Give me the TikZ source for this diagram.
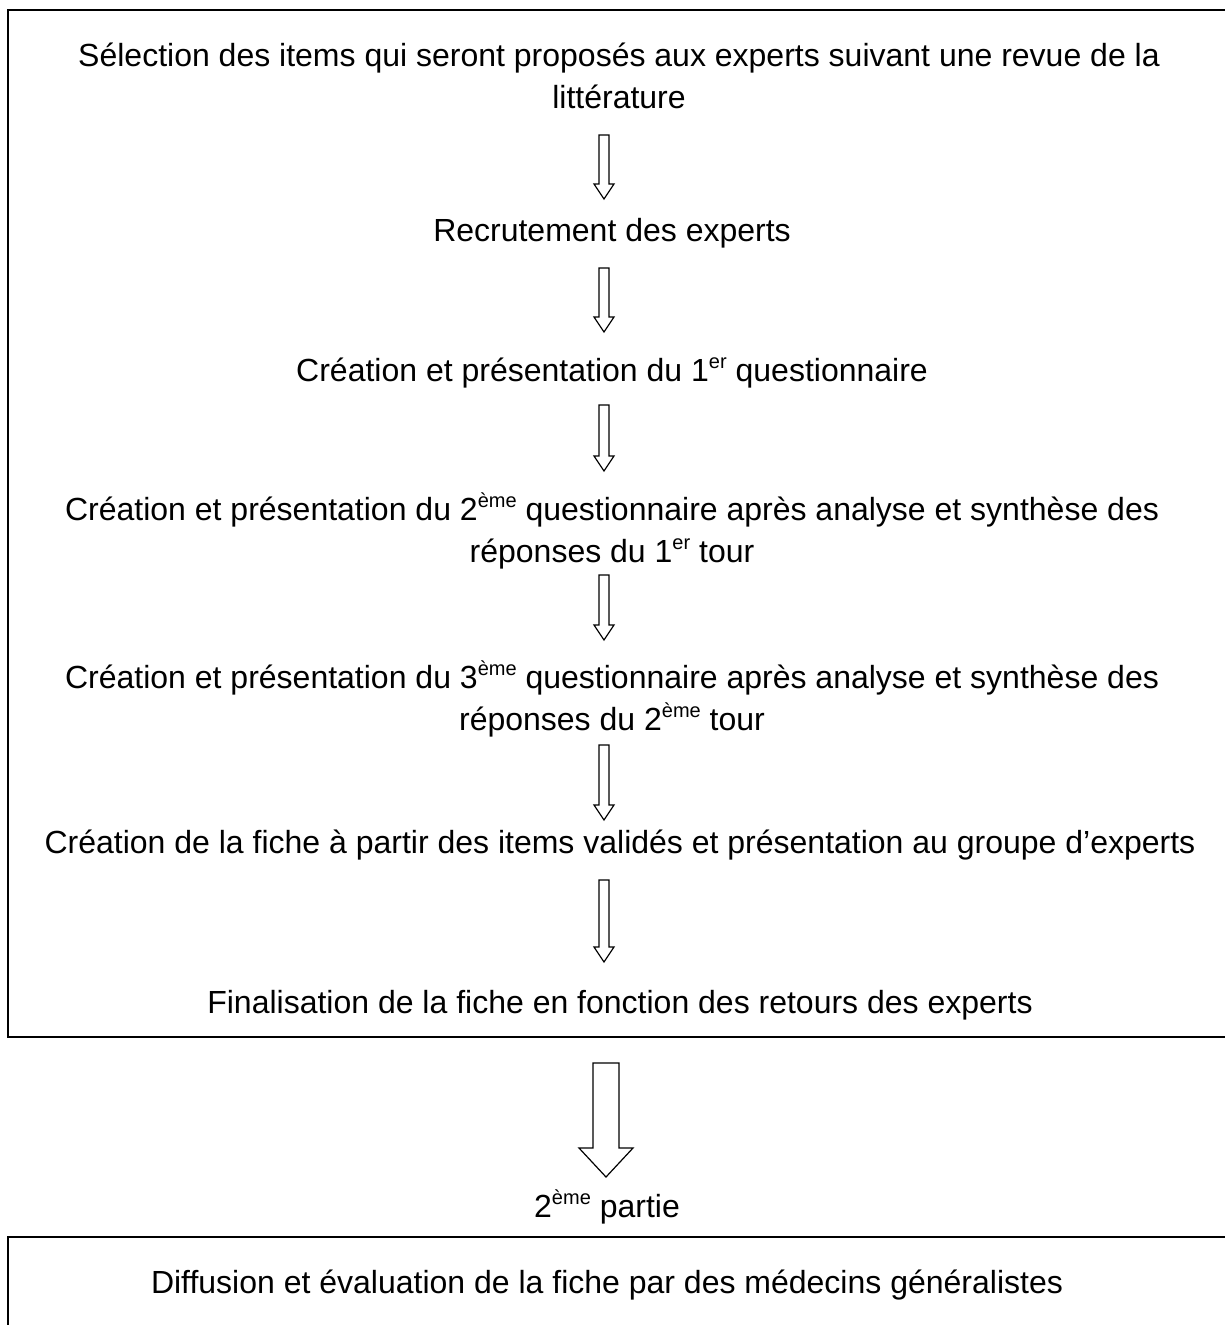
\documentclass[tikz,border=0pt]{standalone}
\usepackage{fontspec}
\setmainfont{Liberation Sans}
\usetikzlibrary{calc}
\newcommand{\supx}[1]{\raisebox{0.42em}{\fontsize{20}{20}\selectfont #1}}
\tikzset{
  txt/.style={inner sep=0pt, align=center, font=\fontsize{32}{42}\selectfont, anchor=center},
  frame/.style={draw=black, line width=2pt},
  blockarrow/.style={draw=black, line width=1.2pt, fill=white, line join=miter},
}
\newcommand{\smallarrow}[2]{%
  \draw[blockarrow] ($(#1)+(-5,0)$) -- ($(#1)+(5,0)$) -- ($(#2)+(5,-15)$) -- ($(#2)+(10,-15)$) -- (#2) -- ($(#2)+(-10,-15)$) -- ($(#2)+(-5,-15)$) -- cycle;}
\begin{document}
\begin{tikzpicture}[x=1pt,y=-1pt]
\useasboundingbox (0,0) rectangle (1225,1325);
\clip (0,0) rectangle (1225,1325);
\draw[frame] (8,10) rectangle (1240,1037);
\draw[frame] (8,1237) rectangle (1240,1340);

\node[txt] (n1) at (619,76) {Sélection des items qui seront proposés aux experts suivant une revue de la\\littérature};
\node[txt] (n2) at (612,233) {Recrutement des experts};
\node[txt] (n3) at (612,373) {Création et présentation du 1\supx{er} questionnaire};
\node[txt] (n4) at (612,531) {Création et présentation du 2\supx{ème} questionnaire après analyse et synthèse des\\réponses du 1\supx{er} tour};
\node[txt] (n5) at (612,699) {Création et présentation du 3\supx{ème} questionnaire après analyse et synthèse des\\réponses du 2\supx{ème} tour};
\node[txt] (n6) at (620,845) {Création de la fiche à partir des items validés et présentation au groupe d’experts};
\node[txt] (n7) at (620,1005) {Finalisation de la fiche en fonction des retours des experts};
\node[txt] (n8) at (607,1207) {2\supx{ème} partie};
\node[txt] (n9) at (607,1285) {Diffusion et évaluation de la fiche par des médecins généralistes};

\coordinate (a1t) at (604,135);  \coordinate (a1b) at (604,199);
\coordinate (a2t) at (604,268);  \coordinate (a2b) at (604,332);
\coordinate (a3t) at (604,405);  \coordinate (a3b) at (604,471);
\coordinate (a4t) at (604,575);  \coordinate (a4b) at (604,640);
\coordinate (a5t) at (604,745);  \coordinate (a5b) at (604,820);
\coordinate (a6t) at (604,880);  \coordinate (a6b) at (604,962);
\smallarrow{a1t}{a1b}
\smallarrow{a2t}{a2b}
\smallarrow{a3t}{a3b}
\smallarrow{a4t}{a4b}
\smallarrow{a5t}{a5b}
\smallarrow{a6t}{a6b}

\coordinate (bt) at (606,1063); \coordinate (bb) at (606,1177);
\draw[blockarrow] ($(bt)+(-13,0)$) -- ($(bt)+(13,0)$) -- ($(bb)+(13,-29)$) -- ($(bb)+(27,-29)$) -- (bb) -- ($(bb)+(-27,-29)$) -- ($(bb)+(-13,-29)$) -- cycle;
\end{tikzpicture}
\end{document}
